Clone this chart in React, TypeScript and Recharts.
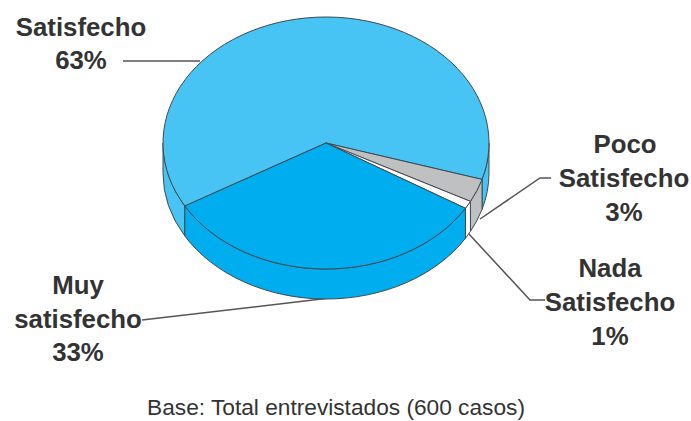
import React from "react";
import { PieChart, Pie, Cell } from "recharts";

const categories = ["Satisfecho", "Poco Satisfecho", "Nada Satisfecho", "Muy satisfecho"];
const values = [63, 3, 1, 33];
const colors = ["#47C3F4", "#BEC0C2", "#FFFFFF", "#00ADEF"];
const chartData = categories.map((name, i) => ({ name, value: values[i] }));

const SQUASH = 126 / 163;
const DEPTH = 30;
const OUTLINE = "#3F4A50";
const LABEL = "#333333";
const FONT = "'Liberation Sans', Arial, sans-serif";

const pt = (cx: number, cy: number, rx: number, a: number) => {
  const r = (a * Math.PI) / 180;
  return [cx + rx * Math.cos(r), cy - rx * SQUASH * Math.sin(r)];
};

const TopFace = (p: any) => {
  const { cx, cy, outerRadius: rx, startAngle: s, endAngle: e, fill } = p;
  const [x1, y1] = pt(cx, cy, rx, s);
  const [x2, y2] = pt(cx, cy, rx, e);
  const large = Math.abs(s - e) > 180 ? 1 : 0;
  return (
    <path
      d={`M${cx} ${cy}L${x1} ${y1}A${rx} ${rx * SQUASH} 0 ${large} 1 ${x2} ${y2}Z`}
      fill={fill}
      stroke={OUTLINE}
      strokeWidth={1}
      strokeLinejoin="round"
    />
  );
};

const Wall = (p: any) => {
  const { cx, cy, outerRadius: rx, startAngle: s, endAngle: e, fill } = p;
  const ry = rx * SQUASH;
  const pieces: string[] = [];
  for (const [hi, lo] of [[360, 180], [0, -180]]) {
    const a = Math.min(s, hi);
    const b = Math.max(e, lo);
    if (a <= b) continue;
    const [x1, y1] = pt(cx, cy, rx, a);
    const [x2, y2] = pt(cx, cy, rx, b);
    pieces.push(
      `M${x1} ${y1}A${rx} ${ry} 0 0 1 ${x2} ${y2}L${x2} ${y2 + DEPTH}A${rx} ${ry} 0 0 0 ${x1} ${y1 + DEPTH}Z`
    );
  }
  return <path d={pieces.join("")} fill={fill} stroke={OUTLINE} strokeWidth={1} strokeLinejoin="round" />;
};

const Label = ({ x, y, size = 25.8, bold = true, children }: any) => (
  <text
    x={x}
    y={y}
    textAnchor="middle"
    fontFamily={FONT}
    fontSize={size}
    fontWeight={bold ? 700 : 400}
    fill={LABEL}
  >
    {children}
  </text>
);

const Leader = ({ points }: { points: string }) => (
  <polyline points={points} fill="none" stroke="#555555" strokeWidth={1.5} />
);

export default function App() {
  const pieProps = {
    data: chartData,
    dataKey: "value",
    nameKey: "name",
    cx: 326,
    cy: 143,
    innerRadius: 0,
    outerRadius: 163,
    startAngle: 210,
    endAngle: -150,
    isAnimationActive: false,
    stroke: "none",
  };
  return (
    <div style={{ position: "absolute", left: 0, top: 0, width: 691, height: 421, background: "#fff" }}>
      <PieChart width={691} height={421} margin={{ top: 0, right: 0, bottom: 0, left: 0 }}>
        <Pie {...pieProps} shape={Wall}>
          {chartData.map((d, i) => (
            <Cell key={d.name} fill={colors[i]} />
          ))}
        </Pie>
        <Pie {...pieProps} shape={TopFace}>
          {chartData.map((d, i) => (
            <Cell key={d.name} fill={colors[i]} />
          ))}
        </Pie>
        <Leader points="123,61 200,61" />
        <Leader points="551,178 540,178 480,219" />
        <Leader points="545,300 530,300 468,233" />
        <Leader points="142,320 330,298" />
        <Label x={81} y={36}>Satisfecho</Label>
        <Label x={81} y={69}>63%</Label>
        <Label x={625} y={153}>Poco</Label>
        <Label x={624} y={187}>Satisfecho</Label>
        <Label x={624} y={221}>3%</Label>
        <Label x={610} y={277}>Nada</Label>
        <Label x={610} y={311}>Satisfecho</Label>
        <Label x={610} y={345}>1%</Label>
        <Label x={78} y={294}>Muy</Label>
        <Label x={78} y={328}>satisfecho</Label>
        <Label x={78} y={361}>33%</Label>
        <Label x={336} y={415} size={22.7} bold={false}>Base: Total entrevistados (600 casos)</Label>
      </PieChart>
    </div>
  );
}
